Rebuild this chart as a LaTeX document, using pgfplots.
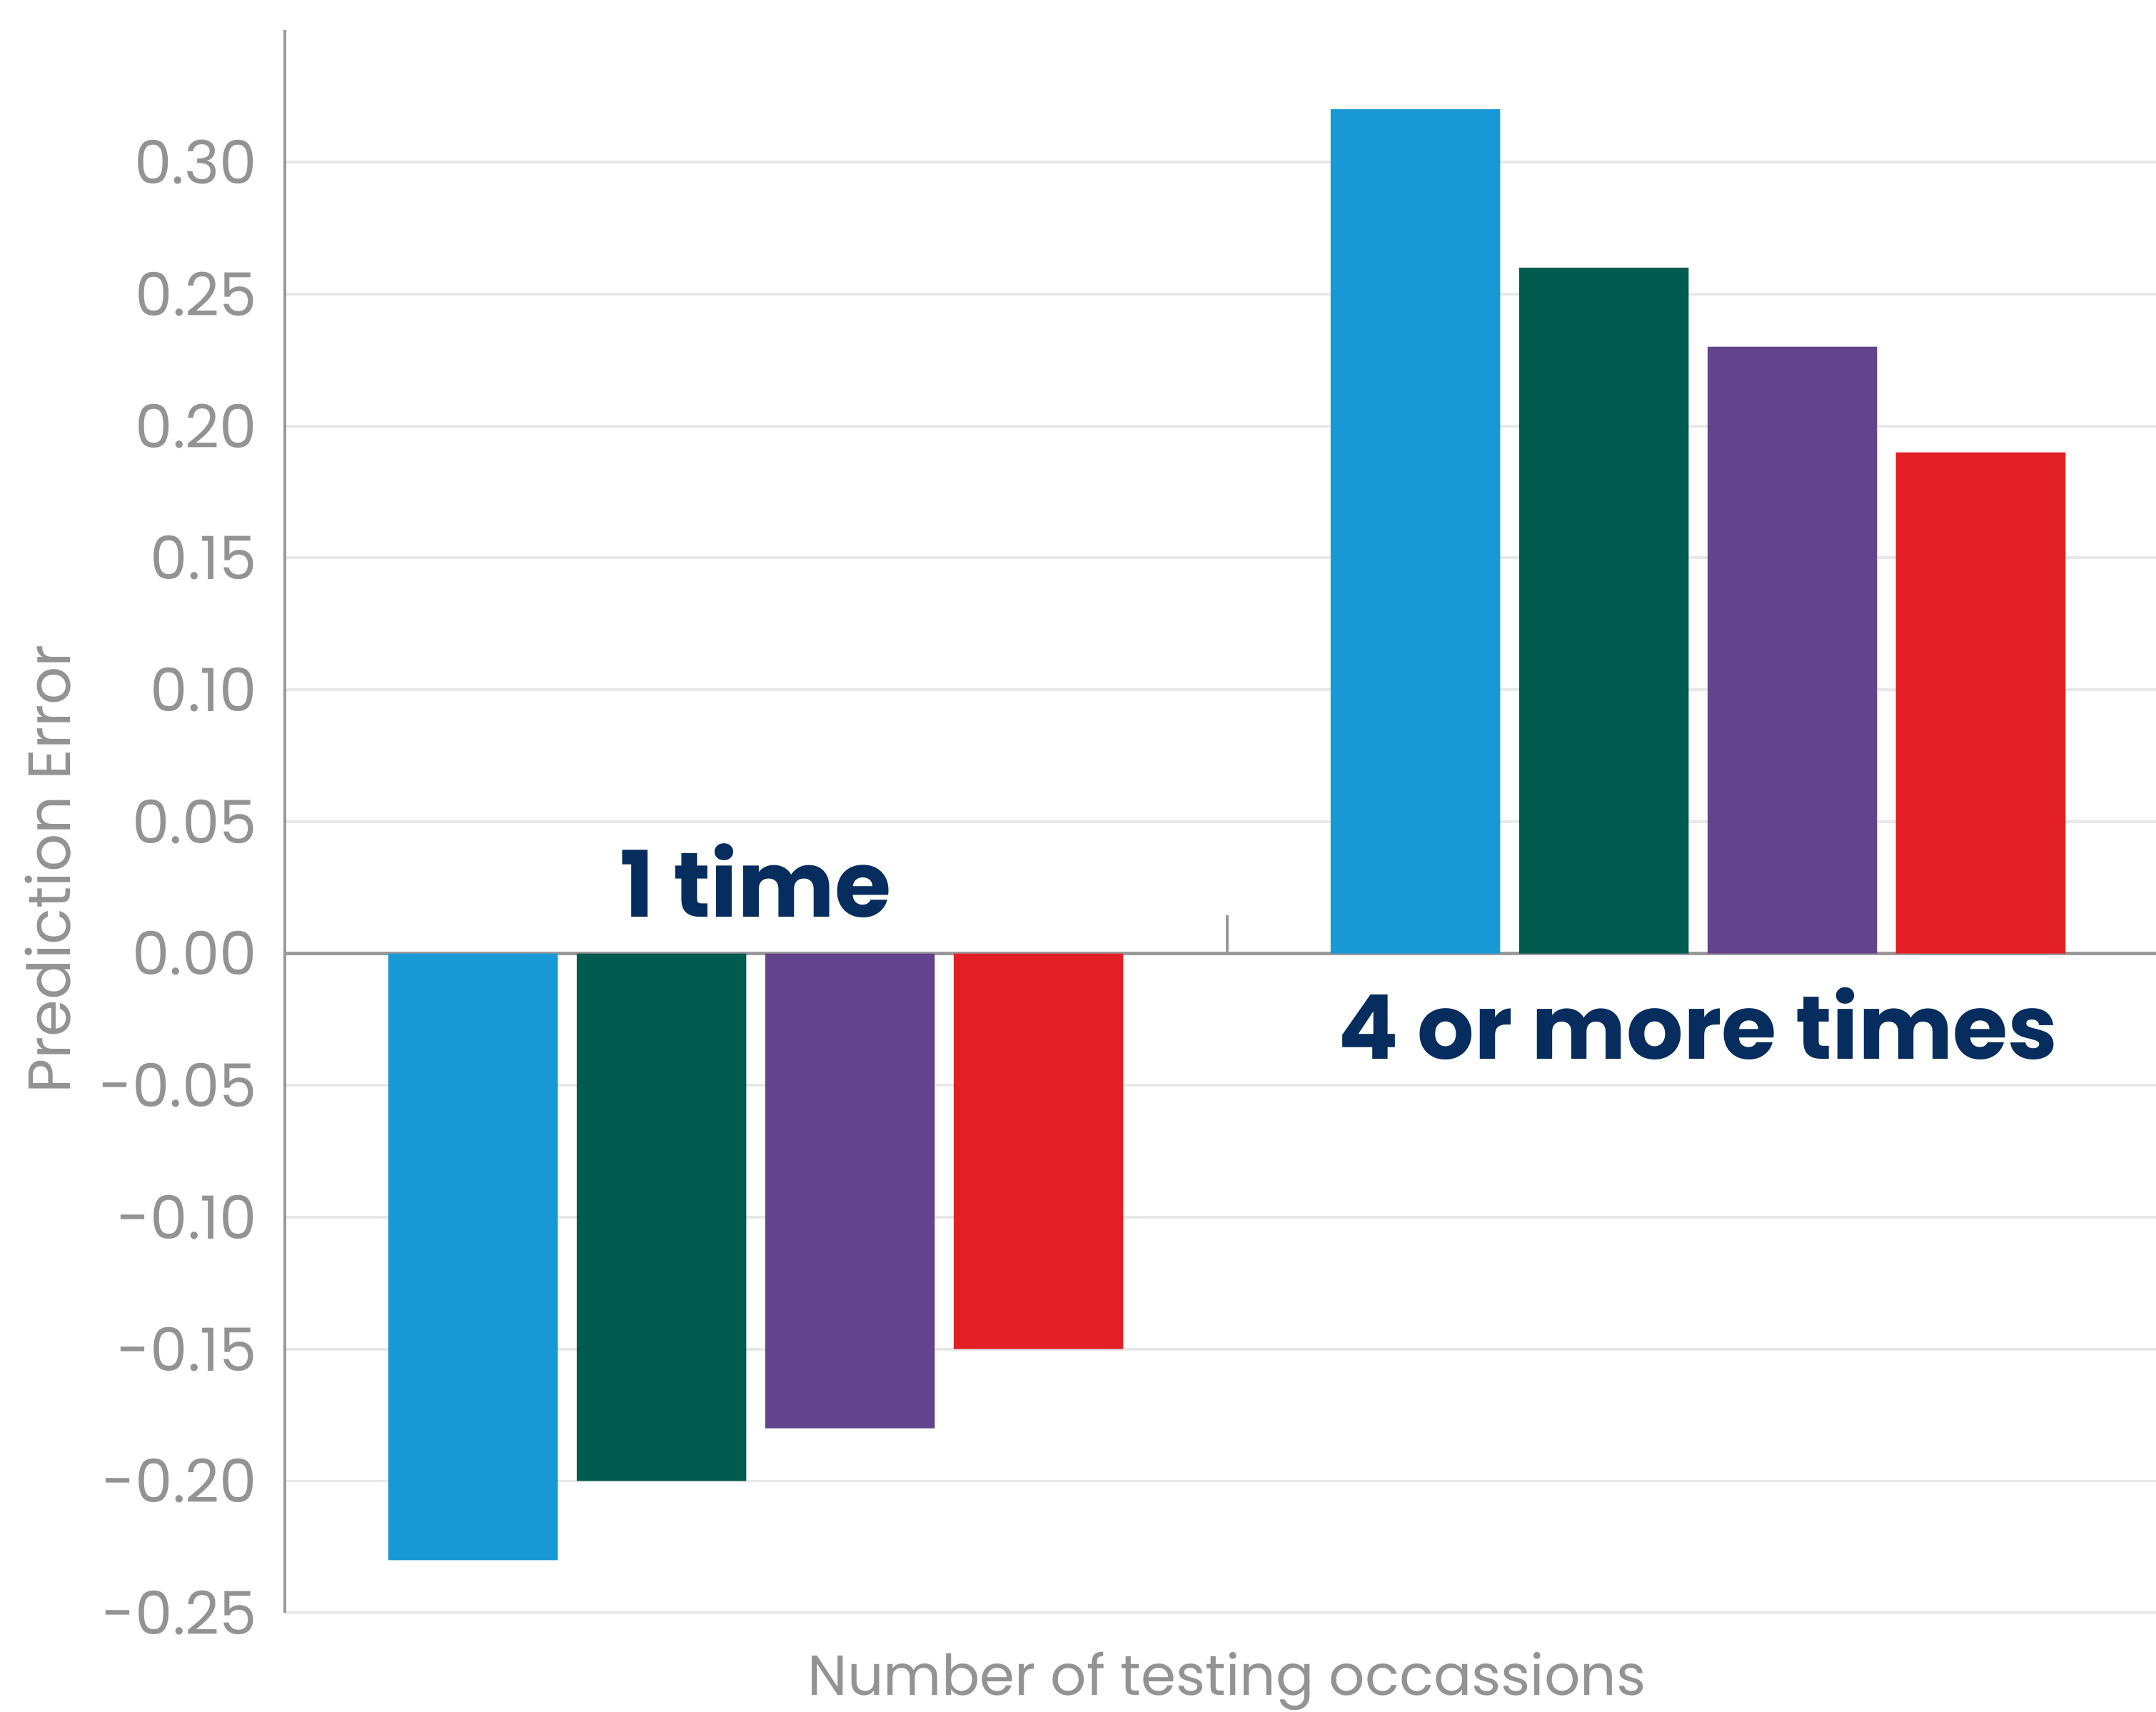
\documentclass[border=0pt]{standalone}
\usepackage{fontspec}
\setmainfont{Poppins}
\usepackage{pgfplots}
\pgfplotsset{compat=1.18}
\definecolor{cblue}{HTML}{1899D6}
\definecolor{cgreen}{HTML}{025B4F}
\definecolor{cpurple}{HTML}{63448C}
\definecolor{cred}{HTML}{E31F26}
\definecolor{navy}{HTML}{062D5E}
\definecolor{tgray}{HTML}{939393}
\definecolor{agray}{HTML}{9A9A9C}
\definecolor{ggray}{HTML}{E8E8E8}
\begin{document}
\begin{tikzpicture}
\begin{axis}[
  width=408.3pt, height=345.3pt, scale only axis,
  xmin=-0.5, xmax=1.486, ymin=-0.25, ymax=0.35,
  axis x line=none, axis y line*=left,
  axis line style={agray, line width=0.6pt},
  ytick={-0.25,-0.2,-0.15,-0.1,-0.05,0,0.05,0.1,0.15,0.2,0.25,0.3},
  yticklabels={-0.25,-0.20,-0.15,-0.10,-0.05,0.00,0.05,0.10,0.15,0.20,0.25,0.30},
  ymajorgrids, grid style={ggray, line width=0.6pt},
  major tick length=0pt,
  extra y ticks={0}, extra y tick labels={},
  extra y tick style={grid style={agray, line width=0.8pt}},
  yticklabel style={font=\fontsize{13}{15}\selectfont, text=tgray, xshift=-2.5pt},
  ybar, bar width=0.18,
  clip=false,
]
\addplot[draw=none, fill=cblue, bar shift=-0.3] coordinates {(0,-0.23) (1,0.32)};
\addplot[draw=none, fill=cgreen, bar shift=-0.1] coordinates {(0,-0.20) (1,0.26)};
\addplot[draw=none, fill=cpurple, bar shift=0.1] coordinates {(0,-0.18) (1,0.23)};
\addplot[draw=none, fill=cred, bar shift=0.3] coordinates {(0,-0.15) (1,0.19)};
\draw[agray, line width=0.6pt] (axis cs:0.5,0) -- ([yshift=8.4pt]axis cs:0.5,0);
\node[font=\fontsize{20}{24}\selectfont\bfseries, text=navy] at (axis cs:0,0.0277) {1 time};
\node[font=\fontsize{19.5}{24}\selectfont\bfseries, text=navy] at (axis cs:1,-0.0266) {4 or more times};
\node[font=\fontsize{13}{15}\selectfont, text=tgray, rotate=90] at ([xshift=-51.6pt]rel axis cs:0,0.47) {Prediction Error};
\node[font=\fontsize{12.3}{15}\selectfont, text=tgray, anchor=base] at ([yshift=-18pt]axis cs:0.5,-0.25) {Number of testing occassions};
\coordinate (bl) at (rel axis cs:0,0);
\coordinate (tr) at (rel axis cs:1,1);
\end{axis}
\pgfresetboundingbox
\path[use as bounding box] ([shift={(-62.1pt,-21.6pt)}]bl) rectangle ([shift={(0pt,6.6pt)}]tr);
\end{tikzpicture}
\end{document}
